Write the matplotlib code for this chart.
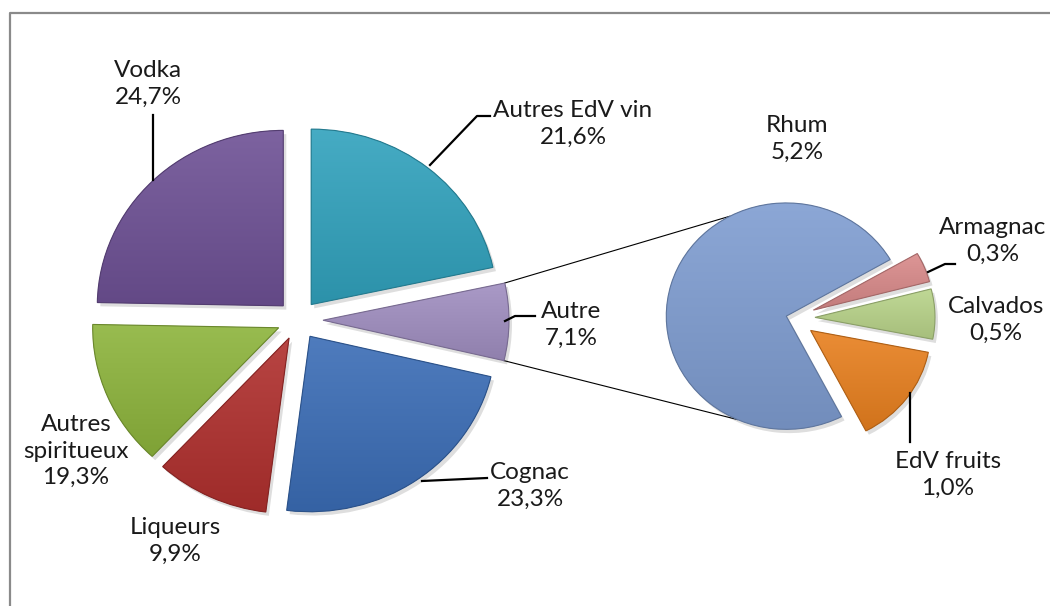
import matplotlib.pyplot as plt
import numpy as np
from matplotlib.patches import Wedge
from matplotlib.colors import to_rgb

# main pie (clockwise from 12 o'clock)
main_names = ["Autres EdV vin", "Autre", "Cognac", "Liqueurs", "Autres\nspiritueux", "Vodka"]
main_pct = [21.6, 7.1, 23.3, 9.9, 19.3, 24.7]      # printed labels
main_sizes = [21.6, 7.1, 23.3, 9.9, 13.4, 24.7]    # drawn wedges (spiritueux wedge is narrower in the original)
main_colors = ["#31a2bd", "#a08ec0", "#3b6db6", "#b0302e", "#8db43c", "#6e5195"]

# secondary pie ("Autre" split), counterclockwise
sub_names = ["Rhum", "EdV fruits", "Calvados", "Armagnac"]
sub_pct = [5.2, 1.0, 0.5, 0.3]
sub_colors = ["#7f9dd1", "#e8801f", "#b9d48a", "#d98a8a"]

W, H = 1050, 606
K = 1.06  # slight vertical squash like the original


def P(x, y):
    # pixel position -> data
    return x, (H - y) * K


fig = plt.figure(figsize=(10.5, 6.06), dpi=100)
ax = fig.add_axes([0, 0, 1, 1])

# explode is given in data units when radius != 1
w1, _ = ax.pie(main_sizes, colors=main_colors, startangle=90, counterclock=False,
               center=P(298, 320), radius=186,
               explode=[21, 25, 21, 21, 21, 21],
               wedgeprops=dict(linewidth=0))
w2, _ = ax.pie(sub_pct, colors=sub_colors, startangle=30, counterclock=True,
               center=P(793, 318), radius=120,
               explode=[7, 22, 22, 22],
               wedgeprops=dict(linewidth=0))


def shade(w, c):
    x0, y0, x1, y1 = w.get_path().get_extents().extents
    rgb = np.array(to_rgb(c))
    t = np.linspace(0, 1, 64)[:, None]
    top = rgb + (1 - rgb) * 0.1
    bot = rgb * 0.9
    grad = top * (1 - t) + bot * t
    img = np.repeat(grad[:, None, :], 2, axis=1)
    im = ax.imshow(img, extent=(x0, x1, y0, y1), origin="upper", aspect="auto",
                   interpolation="bilinear", zorder=1.05)
    im.set_clip_path(w)
    # soft shadow
    sh = Wedge((w.center[0] + 3, w.center[1] - 4), w.r, w.theta1, w.theta2,
               facecolor="#000000", alpha=0.13, linewidth=0, zorder=0.8)
    ax.add_patch(sh)
    ol = Wedge(w.center, w.r, w.theta1, w.theta2, fill=False,
               edgecolor=tuple(rgb * 0.75), linewidth=0.8, zorder=1.1)
    ax.add_patch(ol)


for w, c in zip(w1, main_colors):
    shade(w, c)
for w, c in zip(w2, sub_colors):
    shade(w, c)

# connector lines from "Autre" wedge to the secondary pie
autre = w1[1]
rhum = w2[0]
for a_ang, r_ang in [(autre.theta2, 118), (autre.theta1, -114)]:
    xa = autre.center[0] + autre.r * np.cos(np.radians(a_ang))
    ya = autre.center[1] + autre.r * np.sin(np.radians(a_ang))
    xr = rhum.center[0] + rhum.r * np.cos(np.radians(r_ang))
    yr = rhum.center[1] + rhum.r * np.sin(np.radians(r_ang))
    ax.plot([xa, xr], [ya, yr], color="black", lw=0.8, zorder=0.9)


def fmt(name, v):
    return f"{name}\n{v:.1f}%".replace(".", ",")


main_pos = [(573, 124), (571, 325), (530, 486), (175, 541), (76, 451), (148, 84)]
sub_pos = [(797, 139), (948, 475), (996, 320), (993, 241)]

font = dict(family="Lato", fontsize=17.5, color="#1a1a1a", ha="center", va="center",
            linespacing=1.3)
for name, v, (x, y) in zip(main_names, main_pct, main_pos):
    ax.text(*P(x, y), fmt(name, v), **font)
for name, v, (x, y) in zip(sub_names, sub_pct, sub_pos):
    ax.text(*P(x, y), fmt(name, v), **font)

# leader lines
leaders = [
    [(153, 115), (153, 180)],
    [(430, 165), (477, 116), (490, 116)],
    [(505, 321), (515, 316), (535, 316)],
    [(422, 481), (487, 478)],
    [(928, 272), (945, 264), (955, 264)],
    [(910, 393), (910, 442)],
]
for pts in leaders:
    xy = [P(x, y) for x, y in pts]
    ax.plot([p[0] for p in xy], [p[1] for p in xy], color="black", lw=1.6, zorder=2)

# chart frame (only top and left visible)
fx = [P(10, 620)[0], P(10, 13)[0], P(1060, 13)[0]]
fy = [P(10, 620)[1], P(10, 13)[1], P(1060, 13)[1]]
ax.plot(fx, fy, color="#8a8a8a", lw=1.6, clip_on=False, zorder=3)

ax.set_xlim(0, W)
ax.set_ylim(0, H * K)
ax.set_aspect("auto")
ax.axis("off")

fig.savefig("out.png", dpi=100)
